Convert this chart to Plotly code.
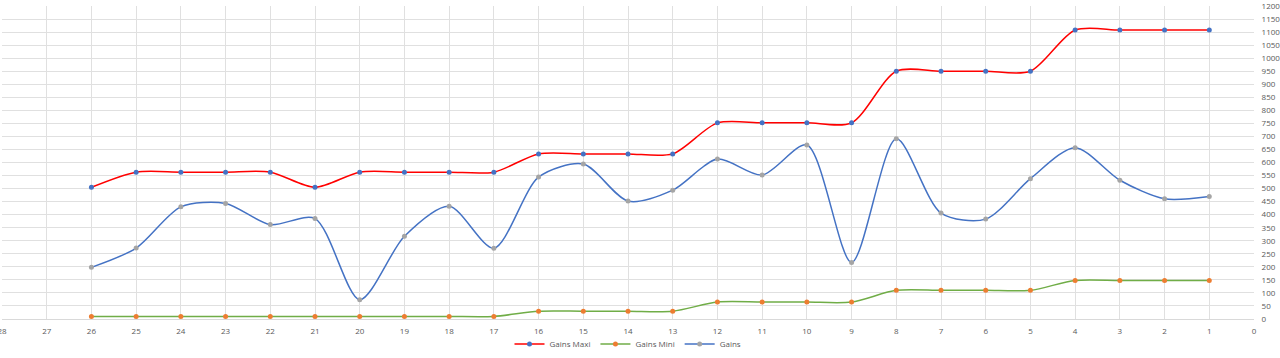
import plotly.graph_objects as go

x_vals = list(range(26, 0, -1))
gains_maxi = [505, 563, 563, 563, 563, 505, 563, 563, 563, 563, 633, 633, 633, 633,
              752, 752, 752, 752, 950, 950, 950, 950, 1108, 1108, 1108, 1108]
gains_mini = [10, 10, 10, 10, 10, 10, 10, 10, 10, 10, 30, 30, 30, 30,
              65, 65, 65, 65, 110, 110, 110, 110, 148, 148, 148, 148]
gains = [198, 272, 430, 443, 362, 385, 74, 317, 432, 271, 544, 594, 452, 494,
         613, 552, 667, 217, 691, 406, 383, 538, 657, 532, 461, 470]

fig = go.Figure()
fig.add_trace(go.Scatter(x=x_vals, y=gains_maxi, name="Gains Maxi", mode="lines+markers",
                         line=dict(color="#FF0000", width=1.5, shape="spline", smoothing=0.8),
                         marker=dict(color="#4472C4", size=5)))
fig.add_trace(go.Scatter(x=x_vals, y=gains_mini, name="Gains Mini", mode="lines+markers",
                         line=dict(color="#70AD47", width=1.5, shape="spline", smoothing=0.8),
                         marker=dict(color="#ED7D31", size=5)))
fig.add_trace(go.Scatter(x=x_vals, y=gains, name="Gains", mode="lines+markers",
                         line=dict(color="#4472C4", width=1.5, shape="spline", smoothing=0.8),
                         marker=dict(color="#A5A5A5", size=5)))

fig.update_layout(
    width=1280, height=358,
    margin=dict(l=2, r=26, t=6, b=39, autoexpand=False),
    paper_bgcolor="white", plot_bgcolor="white",
    font=dict(family="Open Sans, Arial, sans-serif", size=8, color="#595959"),
    showlegend=True,
    legend=dict(orientation="h", x=0.5, xanchor="center", y=-0.08, yanchor="middle",
                bgcolor="rgba(0,0,0,0)",
                font=dict(size=8, color="#595959"), itemwidth=30),
    xaxis=dict(range=[28, 0], dtick=1, tick0=0, showgrid=True, gridcolor="#E0E0E0",
               gridwidth=1, zeroline=False, showline=True, linecolor="#D9D9D9",
               ticks="outside", ticklen=4, tickcolor="rgba(0,0,0,0)",
               ticklabeloverflow="allow", automargin=False,
               tickfont=dict(size=8, color="#595959")),
    yaxis=dict(range=[0, 1200], dtick=50, side="right", showgrid=True, gridcolor="#E0E0E0",
               gridwidth=1, zeroline=False, showline=False,
               ticks="outside", ticklen=5, tickcolor="rgba(0,0,0,0)",
               ticklabeloverflow="allow", automargin=False,
               tickfont=dict(size=8, color="#595959")),
)

fig.write_html("out.html", config={"displayModeBar": False},
               post_script="document.body.style.margin='0';document.body.style.overflow='hidden';")
